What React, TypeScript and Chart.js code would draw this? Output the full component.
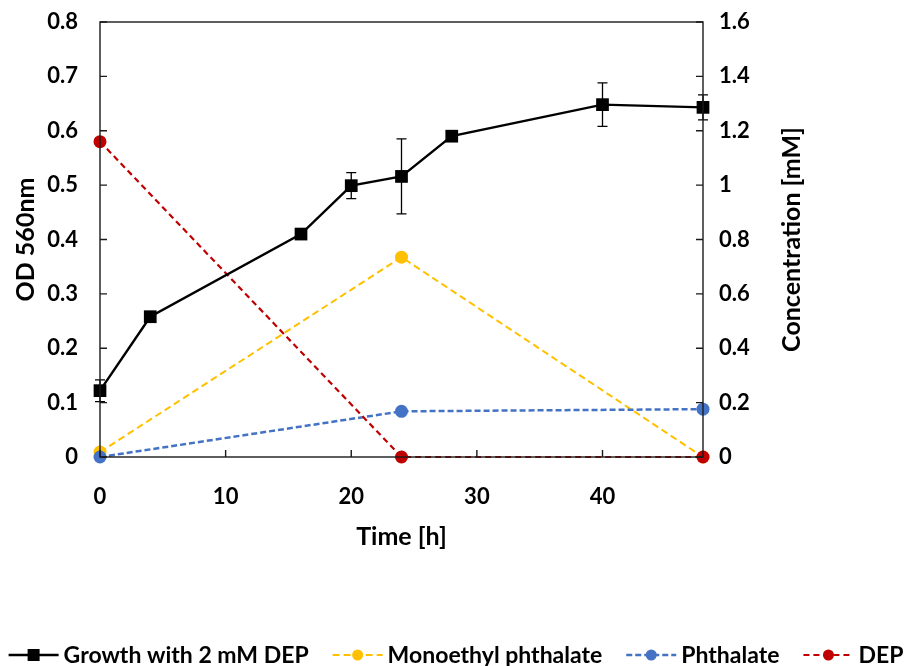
import React, { useEffect, useRef } from "react";
import { Chart, registerables } from "chart.js";

Chart.register(...registerables);

// ---- data ----
const growthTimes = [0, 4, 16, 20, 24, 28, 40, 48];
const growthOD = [0.122, 0.258, 0.41, 0.499, 0.516, 0.59, 0.648, 0.643];
const growthErr = [0.02, 0, 0, 0.024, 0.069, 0, 0.04, 0.023];

const sampleTimes = [0, 24, 48];
const monoethylPhthalate = [0.018, 0.735, 0];
const phthalate = [0, 0.168, 0.176];
const depConc = [1.16, 0, 0];

const xTickValues = [0, 10, 20, 30, 40];

const labels = {
  growth: "Growth with 2 mM DEP",
  mep: "Monoethyl phthalate",
  pa: "Phthalate",
  dep: "DEP",
};

const rightTitle = "Concentration [mM]";

const FONT = "Lato, 'Open Sans', sans-serif";

const fmt = (v: number) => String(Number(Number(v).toFixed(2)));

const framePlugin = {
  id: "frameTicks",
  afterDraw(chart: any) {
    const { ctx, chartArea, scales } = chart;
    ctx.save();
    ctx.strokeStyle = "#1a1a1a";
    ctx.lineWidth = 1.4;
    ctx.strokeRect(chartArea.left, chartArea.top, chartArea.right - chartArea.left, chartArea.bottom - chartArea.top);
    const len = 7;
    ctx.beginPath();
    scales.x.ticks.forEach((t: any) => {
      const px = scales.x.getPixelForValue(t.value);
      ctx.moveTo(px, chartArea.bottom);
      ctx.lineTo(px, chartArea.bottom - len);
    });
    scales.y.ticks.forEach((t: any) => {
      const py = scales.y.getPixelForValue(t.value);
      ctx.moveTo(chartArea.left, py);
      ctx.lineTo(chartArea.left + len, py);
    });
    scales.y2.ticks.forEach((t: any) => {
      const py = scales.y2.getPixelForValue(t.value);
      ctx.moveTo(chartArea.right, py);
      ctx.lineTo(chartArea.right - len, py);
    });
    ctx.stroke();

    // right axis title, reading bottom-to-top
    ctx.font = `bold 25px ${FONT}`;
    ctx.fillStyle = "#000";
    ctx.textAlign = "center";
    ctx.textBaseline = "middle";
    ctx.translate(chartArea.right + 89, (chartArea.top + chartArea.bottom) / 2);
    ctx.rotate(-Math.PI / 2);
    ctx.fillText(rightTitle, 0, 0);
    ctx.restore();
  },
};

const errorBarPlugin = {
  id: "errorBars",
  afterDatasetsDraw(chart: any) {
    const { ctx, scales } = chart;
    ctx.save();
    ctx.strokeStyle = "#000";
    ctx.lineWidth = 1.3;
    ctx.beginPath();
    growthTimes.forEach((t, i) => {
      const e = growthErr[i];
      if (!e) return;
      const px = scales.x.getPixelForValue(t);
      const top = scales.y.getPixelForValue(growthOD[i] + e);
      const bot = scales.y.getPixelForValue(growthOD[i] - e);
      ctx.moveTo(px, top);
      ctx.lineTo(px, bot);
      ctx.moveTo(px - 5, top);
      ctx.lineTo(px + 5, top);
      ctx.moveTo(px - 5, bot);
      ctx.lineTo(px + 5, bot);
    });
    ctx.stroke();
    ctx.restore();
  },
};

const legendPlugin = {
  id: "lineLegend",
  afterDraw(chart: any) {
    const { ctx } = chart;
    ctx.save();
    ctx.font = `bold 23px ${FONT}`;
    const symW = 50;
    const gapText = 5;
    const gapItems = 24;
    const items = [0, 3, 2, 1].map((i) => chart.data.datasets[i]);
    const widths = items.map((ds: any) => ctx.measureText(ds.label).width);
    const total = widths.reduce((s: number, w: number) => s + symW + gapText + w, 0) + gapItems * (items.length - 1);
    let x = (chart.width - total) / 2;
    const y = 655;
    items.forEach((ds: any, k: number) => {
      ctx.strokeStyle = ds.borderColor;
      ctx.lineWidth = ds.borderWidth;
      ctx.setLineDash(ds.borderDash || []);
      ctx.beginPath();
      ctx.moveTo(x, y);
      ctx.lineTo(x + symW, y);
      ctx.stroke();
      ctx.setLineDash([]);
      ctx.fillStyle = ds.backgroundColor;
      const cx = x + symW / 2;
      if (ds.pointStyle === "rect") {
        ctx.fillRect(cx - 6, y - 6, 12, 12);
      } else {
        ctx.beginPath();
        ctx.arc(cx, y, 5.5, 0, Math.PI * 2);
        ctx.fill();
      }
      ctx.fillStyle = "#000";
      ctx.textBaseline = "middle";
      ctx.textAlign = "left";
      ctx.fillText(ds.label, x + symW + gapText, y + 1);
      x += symW + gapText + widths[k] + gapItems;
    });
    ctx.restore();
  },
};

export default function App() {
  const ref = useRef<HTMLCanvasElement | null>(null);

  useEffect(() => {
    document.body.style.margin = "0";
    const canvas = ref.current;
    if (!canvas) return;
    const toXY = (xs: number[], ys: number[]) => xs.map((x, i) => ({ x, y: ys[i] }));
    const tickFont = { family: FONT, size: 22, weight: "bold" as const };
    const titleFont = { family: FONT, size: 25, weight: "bold" as const };
    const noOverflow = (s: any) => {
      s.paddingTop = 0;
      s.paddingBottom = 0;
      s.paddingLeft = 0;
      s.paddingRight = 0;
    };

    const chart = new Chart(canvas, {
      type: "line",
      data: {
        datasets: [
          {
            label: labels.growth,
            data: toXY(growthTimes, growthOD),
            yAxisID: "y",
            borderColor: "#000000",
            backgroundColor: "#000000",
            borderWidth: 2.4,
            pointStyle: "rect",
            pointRadius: 9,
            pointBorderWidth: 0,
            order: 0,
            clip: false,
          },
          {
            label: labels.dep,
            data: toXY(sampleTimes, depConc),
            yAxisID: "y2",
            borderColor: "#C00000",
            backgroundColor: "#C00000",
            borderWidth: 2.2,
            borderDash: [6, 4],
            pointStyle: "circle",
            pointRadius: 6.5,
            pointBorderWidth: 0,
            order: 1,
            clip: false,
          },
          {
            label: labels.pa,
            data: toXY(sampleTimes, phthalate),
            yAxisID: "y2",
            borderColor: "#4472C4",
            backgroundColor: "#4472C4",
            borderWidth: 2.5,
            borderDash: [6, 3],
            pointStyle: "circle",
            pointRadius: 6.5,
            pointBorderWidth: 0,
            order: 2,
            clip: false,
          },
          {
            label: labels.mep,
            data: toXY(sampleTimes, monoethylPhthalate),
            yAxisID: "y2",
            borderColor: "#FFC000",
            backgroundColor: "#FFC000",
            borderWidth: 2,
            borderDash: [7, 4],
            pointStyle: "circle",
            pointRadius: 6.5,
            pointBorderWidth: 0,
            order: 3,
            clip: false,
          },
        ],
      },
      options: {
        animation: false,
        responsive: false,
        maintainAspectRatio: false,
        layout: { padding: { top: 22, left: 0, right: 0, bottom: 0 } },
        plugins: {
          legend: { display: false },
          tooltip: { enabled: false },
        },
        scales: {
          x: {
            type: "linear",
            position: "bottom",
            min: 0,
            max: 48,
            grid: { display: false },
            border: { display: false },
            afterBuildTicks: (s: any) => {
              s.ticks = xTickValues.map((v) => ({ value: v }));
            },
            afterFit: (s: any) => {
              s.height = 209;
              noOverflow(s);
            },
            ticks: { font: tickFont, color: "#000", padding: 19, callback: (v: any) => fmt(v) },
            title: {
              display: true,
              text: "Time [h]",
              font: titleFont,
              color: "#000",
              padding: { top: 0, bottom: 114 },
            },
          },
          y: {
            type: "linear",
            position: "left",
            min: 0,
            max: 0.8,
            grid: { display: false },
            border: { display: false },
            afterFit: (s: any) => {
              s.width = 100;
              noOverflow(s);
            },
            ticks: { stepSize: 0.1, font: tickFont, color: "#000", padding: 14, callback: (v: any) => fmt(v) },
            title: {
              display: true,
              text: "OD 560nm",
              font: titleFont,
              color: "#000",
              padding: { top: 11, bottom: 0 },
            },
          },
          y2: {
            type: "linear",
            position: "right",
            min: 0,
            max: 1.6,
            grid: { display: false },
            border: { display: false },
            afterFit: (s: any) => {
              s.width = 209;
              noOverflow(s);
            },
            ticks: { stepSize: 0.2, font: tickFont, color: "#000", padding: 8, callback: (v: any) => fmt(v) },
            title: { display: false },
          },
        },
      },
      plugins: [framePlugin, errorBarPlugin, legendPlugin],
    } as any);

    return () => chart.destroy();
  }, []);

  return <canvas ref={ref} width={912} height={666} style={{ display: "block" }} />;
}
